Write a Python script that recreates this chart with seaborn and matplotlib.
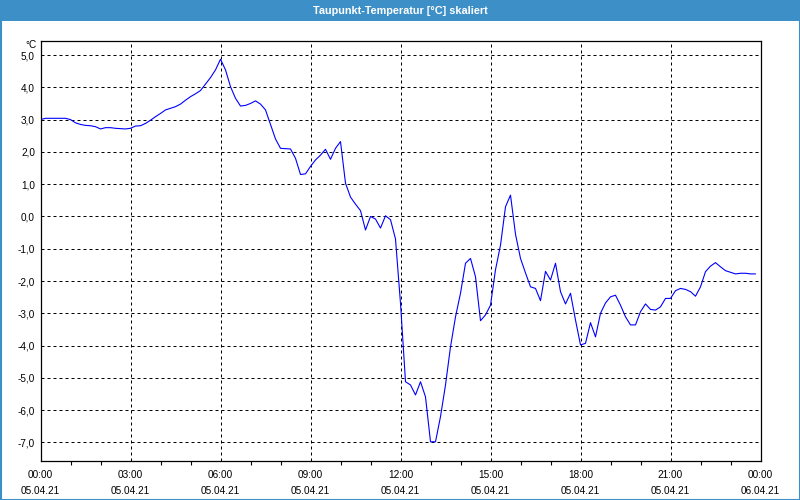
import matplotlib
matplotlib.use("Agg")
import matplotlib.pyplot as plt
import matplotlib.patches as mpatches
import numpy as np
import pandas as pd
import seaborn as sns

# ---- data (10-minute readings, 05.04.21 00:00 .. 23:50) ----
minutes = list(range(0, 1440, 10))
dewpoint = [
    3.00, 3.04, 3.04, 3.04, 3.04, 3.04, 3.00, 2.90, 2.85, 2.82,
    2.81, 2.78, 2.71, 2.75, 2.75, 2.73, 2.72, 2.71, 2.73, 2.80,
    2.81, 2.88, 2.98, 3.09, 3.19, 3.30, 3.35, 3.40, 3.48, 3.60,
    3.71, 3.80, 3.90, 4.10, 4.30, 4.54, 4.87, 4.54, 4.02, 3.66,
    3.42, 3.44, 3.50, 3.58, 3.48, 3.30, 2.85, 2.40, 2.11, 2.10,
    2.09, 1.80, 1.30, 1.32, 1.55, 1.75, 1.90, 2.08, 1.77, 2.11,
    2.32, 1.03, 0.60, 0.38, 0.18, -0.42, 0.00, -0.08, -0.36, 0.02,
    -0.10, -0.70, -2.69, -5.12, -5.22, -5.53, -5.12, -5.59, -6.98, -6.98,
    -6.20, -5.22, -4.04, -3.11, -2.38, -1.45, -1.30, -1.87, -3.23, -3.05,
    -2.75, -1.65, -0.89, 0.30, 0.66, -0.55, -1.30, -1.75, -2.18, -2.23,
    -2.61, -1.70, -1.97, -1.45, -2.33, -2.71, -2.38, -3.21, -3.98, -3.93,
    -3.29, -3.73, -3.00, -2.68, -2.49, -2.44, -2.75, -3.11, -3.36, -3.36,
    -2.95, -2.71, -2.88, -2.90, -2.80, -2.54, -2.54, -2.30, -2.23, -2.26,
    -2.33, -2.47, -2.18, -1.71, -1.54, -1.43, -1.56, -1.68, -1.73, -1.78,
    -1.76, -1.76, -1.78, -1.78,
]
y_ticks = [5, 4, 3, 2, 1, 0, -1, -2, -3, -4, -5, -6, -7]
x_tick_hours = [0, 3, 6, 9, 12, 15, 18, 21, 24]
x_tick_labels = ["00:00\n05.04.21", "03:00\n05.04.21", "06:00\n05.04.21",
                 "09:00\n05.04.21", "12:00\n05.04.21", "15:00\n05.04.21",
                 "18:00\n05.04.21", "21:00\n05.04.21", "00:00\n06.04.21"]
title = "Taupunkt-Temperatur [°C] skaliert"
unit = "°C"

df = pd.DataFrame({"hour": np.array(minutes) / 60.0, "value": dewpoint})

sns.set_style("white")
plt.rcParams["font.family"] = ["Liberation Sans", "DejaVu Sans"]

W, H = 800, 500
fig = plt.figure(figsize=(8, 5), dpi=100)
fig.patch.set_facecolor("white")

BLUE = "#3d8fc7"
# title bar
fig.patches.append(mpatches.Rectangle((0, 1 - 21 / H), 1, 21 / H, transform=fig.transFigure,
                                      facecolor=BLUE, edgecolor="none", zorder=0))
# window border
fig.patches.append(mpatches.Rectangle((0.5 / W, 0.5 / H), 1 - 1.0 / W, 1 - 1.0 / H,
                                      transform=fig.transFigure, facecolor="none",
                                      edgecolor=BLUE, linewidth=1.5, zorder=0))
fig.text(0.5, 1 - 10.5 / H, title, ha="center", va="center", color="white",
         fontsize=7.8, fontweight="bold")

ax = fig.add_axes([40.5 / W, 1 - 460.5 / H, 720 / W, 420 / H])
sns.lineplot(data=df, x="hour", y="value", ax=ax, color="#0000ff", linewidth=0.8)

ax.set_xlim(0, 24)
ax.set_ylim(-7.56, 5.45)
ax.set_yticks(y_ticks)
ax.set_yticklabels([f"{v:.1f}".replace(".", ",") for v in y_ticks])
ax.set_xticks(x_tick_hours)
ax.set_xticklabels(x_tick_labels, linespacing=1.75)
ax.set_xticks([h for h in range(1, 24) if h % 3 != 0], minor=True)
ax.tick_params(axis="x", which="major", length=0, pad=6.5, labelsize=7.2, colors="black")
ax.tick_params(axis="x", which="minor", length=3, width=0.8, direction="out", color="black", bottom=True)
ax.tick_params(axis="y", which="major", length=0, pad=4, labelsize=7.2, colors="black")
ax.set_xlabel("")
ax.set_ylabel("")

ax.grid(True, which="major", color="black", linewidth=0.72, linestyle=(0, (3, 3)))
for s in ax.spines.values():
    s.set_visible(True)
    s.set_color("black")
    s.set_linewidth(0.9)

fig.text(37 / W, 1 - 44.5 / H, unit, ha="right", va="center", fontsize=7.2, color="black")

fig.savefig("out.png", dpi=100)
